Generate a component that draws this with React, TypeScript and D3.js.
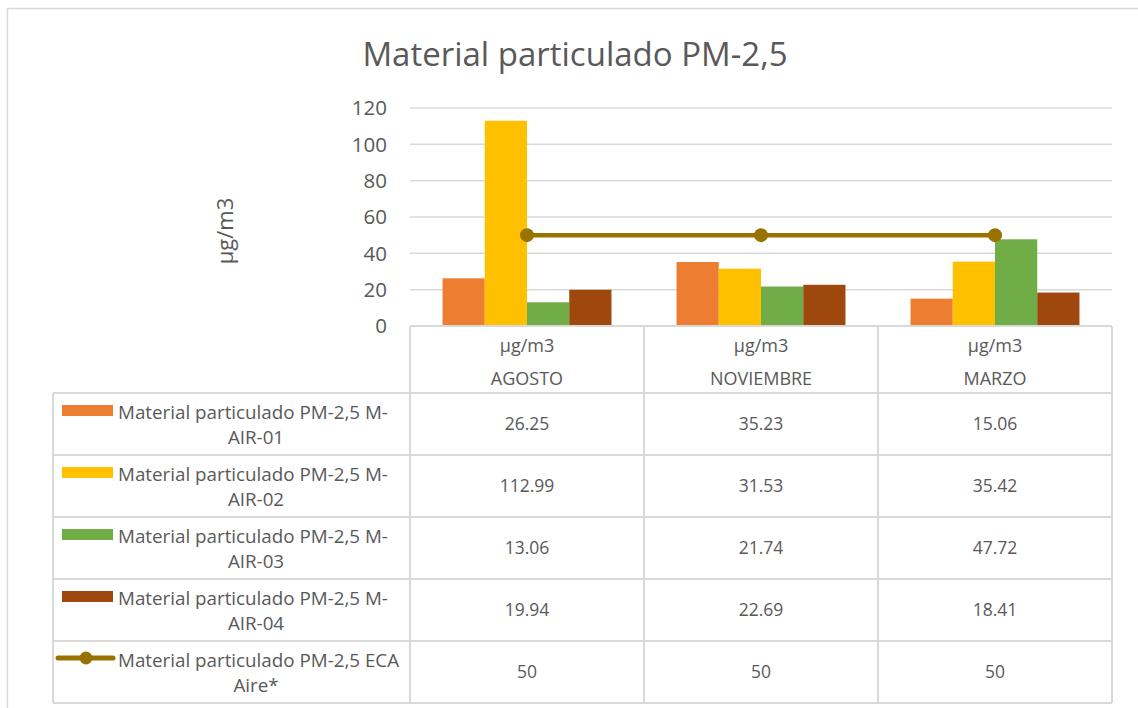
import React from "react";
import * as d3 from "d3";

const categories = ["AGOSTO", "NOVIEMBRE", "MARZO"];
const unitLabel = "µg/m3";
const seriesNames = [
  "Material particulado PM-2,5 M-AIR-01",
  "Material particulado PM-2,5 M-AIR-02",
  "Material particulado PM-2,5 M-AIR-03",
  "Material particulado PM-2,5 M-AIR-04",
];
const seriesLines = [
  ["Material particulado PM-2,5 M-", "AIR-01"],
  ["Material particulado PM-2,5 M-", "AIR-02"],
  ["Material particulado PM-2,5 M-", "AIR-03"],
  ["Material particulado PM-2,5 M-", "AIR-04"],
];
const air01 = [26.25, 35.23, 15.06];
const air02 = [112.99, 31.53, 35.42];
const air03 = [13.06, 21.74, 47.72];
const air04 = [19.94, 22.69, 18.41];
const ecaValues = [50, 50, 50];
const ecaLines = ["Material particulado PM-2,5 ECA", "Aire*"];
const barColors = ["#ED7D31", "#FFC000", "#70AD47", "#9E480E"];
const lineColor = "#997300";
const yTicks = [0, 20, 40, 60, 80, 100, 120];

const W = 1138;
const H = 708;
const FONT = "'Open Sans', 'Liberation Sans', sans-serif";
const TEXT = "#595959";
const GRID = "#d9d9d9";

export default function App() {
  const barSeries = [air01, air02, air03, air04];
  const x = d3.scaleBand<string>().domain(categories).range([410, 1112]).paddingInner(0).paddingOuter(0);
  const bw = x.bandwidth();
  const inner = d3
    .scaleBand<number>()
    .domain(d3.range(barSeries.length))
    .range([bw * 0.139, bw * 0.861])
    .padding(0);
  const y = d3.scaleLinear().domain([0, 120]).range([326, 108]);
  const line = d3
    .line<number>()
    .x((_, i) => (x(categories[i]) as number) + bw / 2)
    .y((d) => y(d));

  const headerTop = 326;
  const headerBottom = 393;
  const rowH = 62;
  const legendLeft = 53;
  const colEdges = [...categories.map((c) => x(c) as number), 1112];

  const rows = [
    ...barSeries.map((vals, i) => ({ lines: seriesLines[i], vals, kind: "bar", color: barColors[i], name: seriesNames[i] })),
    { lines: ecaLines, vals: ecaValues, kind: "line", color: lineColor, name: ecaLines.join(" ") },
  ];
  const tableBottom = headerBottom + rowH * rows.length;

  return (
    <div style={{ position: "fixed", left: 0, top: 0 }}>
      <svg width={W} height={H} style={{ display: "block", background: "#fff" }} fontFamily={FONT}>
        <rect x={0} y={0} width={W} height={H} fill="#fff" />
        {/* outer chart border */}
        <rect x={7.5} y={8.5} width={W + 10} height={H + 10} fill="none" stroke={GRID} strokeWidth={1.5} />
        {/* title */}
        <text x={575} y={66} textAnchor="middle" fontSize={33} fill={TEXT}>
          Material particulado PM-2,5
        </text>
        {/* y axis title */}
        <text
          transform={`translate(233,231) rotate(-90)`}
          textAnchor="middle"
          fontSize={22}
          fill={TEXT}
        >
          {unitLabel}
        </text>
        {/* gridlines */}
        {yTicks.filter((t) => t > 0).map((t) => (
          <line key={t} x1={410} x2={1112} y1={y(t)} y2={y(t)} stroke={GRID} strokeWidth={1.5} />
        ))}
        {yTicks.map((t) => (
          <text key={t} x={387} y={y(t) + 7.3} textAnchor="end" fontSize={20.5} fill={TEXT}>
            {t}
          </text>
        ))}
        {/* bars */}
        {barSeries.map((vals, s) =>
          vals.map((v, i) => (
            <rect
              key={`${s}-${i}`}
              x={(x(categories[i]) as number) + (inner(s) as number)}
              y={y(v)}
              width={inner.bandwidth()}
              height={y(0) - y(v)}
              fill={barColors[s]}
            />
          ))
        )}
        {/* ECA line */}
        <path d={line(ecaValues) || ""} fill="none" stroke={lineColor} strokeWidth={4.5} />
        {ecaValues.map((v, i) => (
          <circle key={i} cx={(x(categories[i]) as number) + bw / 2} cy={y(v)} r={7} fill={lineColor} />
        ))}
        {/* table header */}
        <line x1={410} x2={1112} y1={headerTop} y2={headerTop} stroke={GRID} strokeWidth={2} />
        {colEdges.map((cx, i) => (
          <line key={i} x1={cx} x2={cx} y1={headerTop} y2={tableBottom} stroke={GRID} strokeWidth={2} />
        ))}
        <line x1={legendLeft} x2={legendLeft} y1={headerBottom} y2={tableBottom} stroke={GRID} strokeWidth={2} />
        {categories.map((c) => (
          <g key={c}>
            <text x={(x(c) as number) + bw / 2} y={352} textAnchor="middle" fontSize={18} fill={TEXT}>
              {unitLabel}
            </text>
            <text x={(x(c) as number) + bw / 2} y={385} textAnchor="middle" fontSize={18} fill={TEXT}>
              {c}
            </text>
          </g>
        ))}
        {/* row separators */}
        {d3.range(rows.length + 1).map((r) => (
          <line
            key={r}
            x1={legendLeft}
            x2={1112}
            y1={headerBottom + r * rowH}
            y2={headerBottom + r * rowH}
            stroke={GRID}
            strokeWidth={2}
          />
        ))}
        {rows.map((row, r) => {
          const top = headerBottom + r * rowH;
          return (
            <g key={r}>
              {row.kind === "bar" ? (
                <rect x={62} y={top + 12} width={51} height={11} fill={row.color} />
              ) : (
                <g>
                  <line x1={58} x2={113} y1={top + 17} y2={top + 17} stroke={row.color} strokeWidth={5} strokeLinecap="round" />
                  <circle cx={86} cy={top + 17} r={6.5} fill={row.color} />
                </g>
              )}
              <text x={118} y={top + 26} fontSize={18.8} fill={TEXT}>
                {row.lines[0]}
              </text>
              <text x={256} y={top + 51} textAnchor="middle" fontSize={18.8} fill={TEXT}>
                {row.lines[1]}
              </text>
              {row.vals.map((v, i) => (
                <text
                  key={i}
                  x={(x(categories[i]) as number) + bw / 2}
                  y={top + 37}
                  textAnchor="middle"
                  fontSize={17.5}
                  fill={TEXT}
                >
                  {row.kind === "bar" ? v.toFixed(2) : String(v)}
                </text>
              ))}
            </g>
          );
        })}
      </svg>
    </div>
  );
}
